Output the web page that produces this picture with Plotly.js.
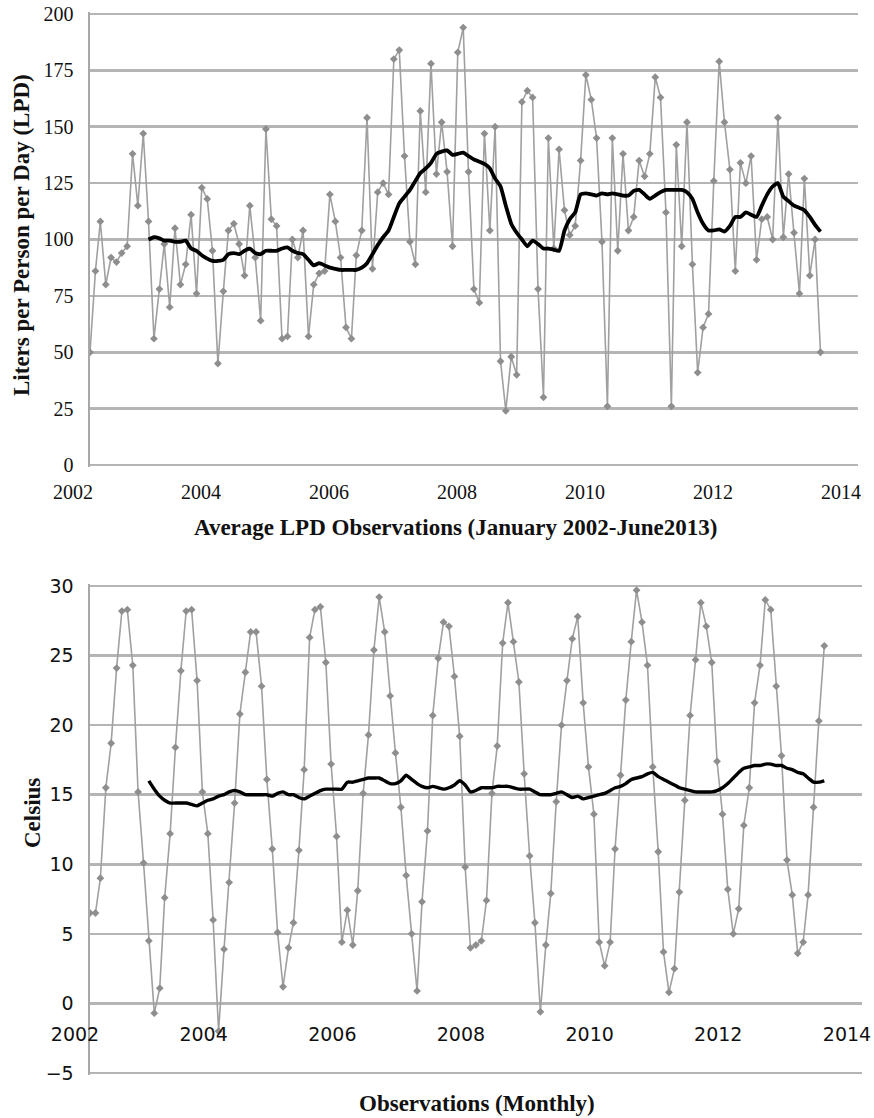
<!DOCTYPE html>
<html>
<head>
<meta charset="utf-8">
<script src="https://cdn.plot.ly/plotly-3.0.1.min.js"></script>
<style>
html,body{margin:0;padding:0;background:#fff;}
#chart{width:874px;height:1118px;}
</style>
</head>
<body>
<div id="chart"></div>
<script>
// ---- Data (monthly, January 2002 - June 2013) ----
const startYear = 2002;
const startMonth = 1;
const nMonths = 138;

// Average liters per person per day (LPD)
const lpd = [
  50, 86, 108, 80, 92, 90, 94, 97, 138, 115, 147, 108,
  56, 78, 98, 70, 105, 80, 89, 111, 76, 123, 118, 95,
  45, 77, 104, 107, 98, 84, 115, 92, 64, 149, 109, 106,
  56, 57, 100, 92, 104, 57, 80, 85, 86, 120, 108, 92,
  61, 56, 93, 104, 154, 87, 121, 125, 120, 180, 184, 137,
  99, 89, 157, 121, 178, 129, 152, 130, 97, 183, 194, 130,
  78, 72, 147, 104, 150, 46, 24, 48, 40, 161, 166, 163,
  78, 30, 145, 96, 140, 113, 102, 106, 135, 173, 162, 145,
  99, 26, 145, 95, 138, 104, 110, 135, 128, 138, 172, 163,
  112, 26, 142, 97, 152, 89, 41, 61, 67, 126, 179, 152,
  131, 86, 134, 125, 137, 91, 109, 110, 100, 154, 101, 129,
  103, 76, 127, 84, 100, 50
];

// 12-month moving average of LPD (from December 2002)
const maStart = 11;
const lpdMA = [
  100, 101, 100.5, 99.5, 99.5, 99, 99, 99.5, 96, 95, 93, 91.5,
  90.5, 90.5, 91, 93.5, 94, 93.5, 95, 96, 94, 93.5, 95, 95,
  95, 96, 96.5, 95, 94, 93.5, 91, 88.5, 89.5, 88.5, 87.5, 87,
  86.5, 86.5, 86.5, 86.5, 87.5, 89.5, 93.5, 97.5, 101, 104, 110, 116,
  119, 122, 126, 129.5, 131.5, 134, 138, 139, 139.5, 137.5, 138, 138.5,
  137, 135.5, 134.5, 133.5, 131.5, 127, 123.5, 115, 107, 103, 100, 97,
  99.5, 98, 96, 96, 95.5, 95, 104, 109, 112, 120, 120.5, 120,
  119.5, 120.5, 120, 120.5, 120, 119.5, 119.5, 121.5, 122, 120, 118, 119.5,
  121, 122, 122, 122, 122, 121, 118, 112, 107, 104, 104, 104.5,
  103.5, 106, 110, 110, 112, 111, 110, 115, 120, 123.5, 125, 119,
  117, 115, 114, 113, 110, 106.5, 103.5
];

// Monthly mean temperature (Celsius)
const temp = [
  6.5, 6.5, 9.0, 15.5, 18.7, 24.1, 28.2, 28.3, 24.3, 15.2, 10.1, 4.5,
  -0.7, 1.1, 7.6, 12.2, 18.4, 23.9, 28.2, 28.3, 23.2, 15.2, 12.2, 6.0,
  -2.0, 3.9, 8.7, 14.4, 20.8, 23.8, 26.7, 26.7, 22.8, 16.1, 11.1, 5.1,
  1.2, 4.0, 5.8, 11.0, 16.8, 26.3, 28.3, 28.5, 24.5, 17.2, 12.0, 4.4,
  6.7, 4.2, 8.1, 15.1, 19.3, 25.4, 29.2, 26.7, 22.1, 18.0, 14.1, 9.2,
  5.0, 0.9, 7.3, 12.4, 20.7, 24.8, 27.4, 27.1, 23.5, 19.2, 9.8, 4.0,
  4.2, 4.5, 7.4, 15.1, 18.5, 25.9, 28.8, 26.0, 23.1, 16.5, 10.6, 5.8,
  -0.6, 4.2, 7.9, 14.5, 20.0, 23.2, 26.2, 27.8, 21.6, 17.0, 13.6, 4.4,
  2.7, 4.4, 11.1, 16.4, 21.8, 26.0, 29.7, 27.4, 24.3, 17.0, 10.9, 3.7,
  0.8, 2.5, 8.0, 14.6, 20.7, 24.7, 28.8, 27.1, 24.5, 17.4, 13.6, 8.2,
  5.0, 6.8, 12.8, 15.5, 21.6, 24.3, 29.0, 28.3, 22.8, 17.8, 10.3, 7.8,
  3.6, 4.4, 7.8, 14.1, 20.3, 25.7
];

// 12-month moving average of temperature (from December 2002)
const tempMA = [
  16.0, 15.4, 14.9, 14.6, 14.4, 14.4, 14.4, 14.4, 14.3, 14.2, 14.4, 14.6,
  14.7, 14.9, 15.0, 15.2, 15.3, 15.2, 15.0, 15.0, 15.0, 15.0, 15.0, 14.9,
  15.1, 15.2, 15.0, 15.0, 14.8, 14.7, 14.9, 15.1, 15.3, 15.4, 15.4, 15.4,
  15.4, 15.9, 15.9, 16.0, 16.1, 16.2, 16.2, 16.2, 16.0, 15.8, 15.8, 16.0,
  16.4, 16.1, 15.8, 15.6, 15.5, 15.6, 15.5, 15.4, 15.5, 15.7, 16.0, 15.7,
  15.2, 15.3, 15.5, 15.5, 15.5, 15.6, 15.6, 15.6, 15.5, 15.4, 15.4, 15.4,
  15.2, 15.0, 15.0, 15.0, 15.1, 15.2, 15.0, 14.8, 14.9, 14.7, 14.8, 14.9,
  15.0, 15.1, 15.3, 15.5, 15.6, 15.8, 16.1, 16.2, 16.3, 16.5, 16.6, 16.3,
  16.1, 15.9, 15.7, 15.5, 15.4, 15.3, 15.2, 15.2, 15.2, 15.2, 15.3, 15.5,
  15.8, 16.2, 16.6, 16.9, 17.0, 17.1, 17.1, 17.2, 17.2, 17.1, 17.1, 16.9,
  16.8, 16.6, 16.5, 16.2, 15.9, 15.9, 16.0
];

const yearTicks = ['2002', '2004', '2006', '2008', '2010', '2012', '2014'];

const lpdTitle = 'Liters per Person per Day (LPD)';
const lpdXTitle = 'Average LPD Observations (January 2002-June2013)';
const tempTitle = 'Celsius';
const tempXTitle = 'Observations (Monthly)';

// ---- Build monthly dates ----
const months = [];
for (let i = 0; i < nMonths; i++) {
  const m0 = startMonth - 1 + i;
  const y = startYear + Math.floor(m0 / 12);
  const m = (m0 % 12) + 1;
  months.push(y + '-' + String(m).padStart(2, '0') + '-01');
}
const maMonths = months.slice(maStart);
const tickVals = yearTicks.map(y => y + '-01-01');

// ---- Styles ----
const grayLine = '#a0a0a0';
const grayMarker = '#8e8e8e';
const gridCol = '#b5b5b5';
const serif = 'Liberation Serif, Times New Roman, serif';
const sans = 'DejaVu Sans, Verdana, sans-serif';

const traces = [
  {
    x: months, y: lpd, xaxis: 'x', yaxis: 'y', type: 'scatter', mode: 'lines+markers',
    line: {color: grayLine, width: 1.6},
    marker: {symbol: 'diamond', size: 6, color: grayMarker}
  },
  {
    x: maMonths, y: lpdMA, xaxis: 'x', yaxis: 'y', type: 'scatter', mode: 'lines',
    line: {color: '#000', width: 3.8, shape: 'spline', smoothing: 0.5}
  },
  {
    x: months, y: temp, xaxis: 'x2', yaxis: 'y2', type: 'scatter', mode: 'lines+markers',
    line: {color: grayLine, width: 1.6},
    marker: {symbol: 'diamond', size: 6, color: grayMarker}
  },
  {
    x: maMonths, y: tempMA, xaxis: 'x2', yaxis: 'y2', type: 'scatter', mode: 'lines',
    line: {color: '#000', width: 3.4, shape: 'spline', smoothing: 0.5}
  }
];

const layout = {
  width: 874, height: 1118,
  margin: {l: 90, r: 12, t: 10, b: 41},
  paper_bgcolor: '#fff', plot_bgcolor: '#fff',
  showlegend: false,
  xaxis: {
    domain: [0, 0.9948], anchor: 'y', type: 'date',
    range: ['2002-01-01', '2014-01-01'],
    tickmode: 'array', tickvals: tickVals, ticktext: yearTicks,
    showgrid: false, zeroline: false, showline: false, ticks: '',
    ticklabelshift: -17, ticklabelstandoff: 11,
    tickfont: {family: serif, size: 20, color: '#111'}
  },
  yaxis: {
    domain: [0.5717, 0.99813], anchor: 'x',
    range: [-0.9, 200.9], tickmode: 'linear', tick0: 0, dtick: 25,
    showgrid: true, gridcolor: gridCol, gridwidth: 2.6,
    zeroline: false, showline: true, linecolor: '#a8a8a8', linewidth: 2.5,
    ticks: '', ticklabelstandoff: 10,
    tickfont: {family: serif, size: 20, color: '#111'}
  },
  xaxis2: {
    domain: [0, 1], anchor: 'free', position: 0.06748, type: 'date',
    range: ['2002-01-01', '2014-01-01'],
    tickmode: 'array', tickvals: tickVals, ticktext: yearTicks,
    showgrid: false, zeroline: false, showline: false, ticks: '',
    ticklabelshift: -15, ticklabelstandoff: 16,
    tickfont: {family: sans, size: 19, color: '#111'}
  },
  yaxis2: {
    domain: [0.00178, 0.46214], anchor: 'x2',
    range: [-5.15, 30.15], tickmode: 'linear', tick0: -5, dtick: 5,
    showgrid: true, gridcolor: gridCol, gridwidth: 2.6,
    zeroline: false, showline: true, linecolor: '#a8a8a8', linewidth: 2.5,
    ticks: '', ticklabelstandoff: 10,
    tickfont: {family: sans, size: 19, color: '#111'}
  },
  annotations: [
    {text: '<b>' + lpdTitle + '</b>', xref: 'paper', yref: 'paper', x: 0, y: 0.78913,
     xshift: -68, textangle: -90, showarrow: false, xanchor: 'center', yanchor: 'middle',
     font: {family: serif, size: 23, color: '#111'}},
    {text: '<b>' + lpdXTitle + '</b>', xref: 'paper', yref: 'paper', x: 0.4728, y: 0.51546,
     showarrow: false, xanchor: 'center', yanchor: 'middle',
     font: {family: serif, size: 23, color: '#111'}},
    {text: '<b>' + tempTitle + '</b>', xref: 'paper', yref: 'paper', x: 0, y: 0.24742,
     xshift: -58, textangle: -90, showarrow: false, xanchor: 'center', yanchor: 'middle',
     font: {family: serif, size: 23, color: '#111'}},
    {text: '<b>' + tempXTitle + '</b>', xref: 'paper', yref: 'paper', x: 0.5013, y: -0.02437,
     showarrow: false, xanchor: 'center', yanchor: 'middle',
     font: {family: serif, size: 23, color: '#111'}}
  ]
};

Plotly.newPlot('chart', traces, layout, {displayModeBar: false, staticPlot: true});
</script>
</body>
</html>
